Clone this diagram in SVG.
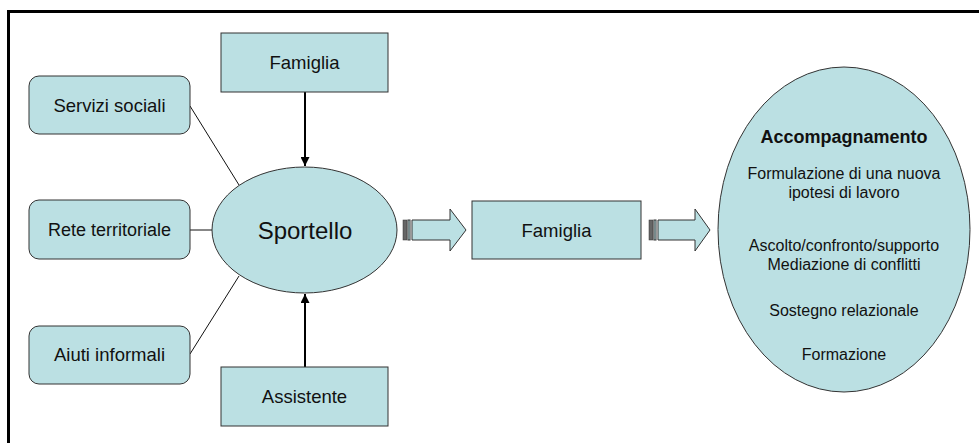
<svg xmlns="http://www.w3.org/2000/svg" width="979" height="443" viewBox="0 0 979 443">
<style>
.box{fill:#BBE0E3;stroke:#333;stroke-width:1}
.t{font-family:"Liberation Sans",Arial,sans-serif;fill:#111;text-anchor:middle}
.l{stroke:#111;stroke-width:1;fill:none}
.a{stroke:#000;stroke-width:2;fill:none}
.stripe{fill:#666;stroke:#333;stroke-width:0.5}
</style>
<defs>
<marker id="ah" viewBox="0 0 10 10" refX="10" refY="5" markerWidth="4.5" markerHeight="4.5" orient="auto" markerUnits="strokeWidth">
<path d="M0,0 L10,5 L0,10 Z" fill="#000"/>
</marker>
</defs>
<rect width="979" height="443" fill="#fff"/>
<path d="M8.5,443 V11.5 H979" fill="none" stroke="#000" stroke-width="3"/>
<g id="connectors">
<line class="a" x1="305" y1="92" x2="305" y2="166" marker-end="url(#ah)"/>
<line class="a" x1="305" y1="367" x2="305" y2="294" marker-end="url(#ah)"/>
<line class="l" x1="190" y1="106" x2="239" y2="185"/>
<line class="l" x1="190" y1="230" x2="212" y2="230"/>
<line class="l" x1="190" y1="354" x2="239" y2="276"/>
<g id="arrow1">
<rect class="stripe" x="403" y="220" width="4" height="20"/>
<rect class="box" x="408" y="220" width="2" height="20" stroke-width="0.5"/>
<polygon class="box" points="412,220 450,220 450,209 466,230 450,251 450,240 412,240"/>
</g>
<g id="arrow2">
<rect class="stripe" x="649" y="220" width="4" height="20"/>
<rect class="box" x="654" y="220" width="2" height="20" stroke-width="0.5"/>
<polygon class="box" points="658,220 695,220 695,209 710,230 695,251 695,240 658,240"/>
</g>
</g>
<g id="famiglia-top">
<rect class="box" x="221" y="33" width="167" height="59"/>
<text class="t" x="304.5" y="69" font-size="18.5">Famiglia</text>
</g>
<g id="servizi-sociali">
<rect class="box" x="29" y="76" width="161" height="58" rx="10"/>
<text class="t" x="109.5" y="112" font-size="18.5">Servizi sociali</text>
</g>
<g id="rete-territoriale">
<rect class="box" x="29" y="200" width="161" height="59" rx="10"/>
<text class="t" x="109.5" y="236" font-size="18">Rete territoriale</text>
</g>
<g id="aiuti-informali">
<rect class="box" x="29" y="326" width="161" height="58" rx="10"/>
<text class="t" x="109.5" y="361" font-size="18.5">Aiuti informali</text>
</g>
<g id="sportello">
<ellipse class="box" cx="304.5" cy="230" rx="92.5" ry="63"/>
<text class="t" x="305" y="239" font-size="24">Sportello</text>
</g>
<g id="assistente">
<rect class="box" x="221" y="367" width="167" height="59"/>
<text class="t" x="304.5" y="403" font-size="18.5">Assistente</text>
</g>
<g id="famiglia-mid">
<rect class="box" x="472" y="201" width="169" height="58"/>
<text class="t" x="556.5" y="237" font-size="18.5">Famiglia</text>
</g>
<g id="accompagnamento">
<ellipse class="box" cx="844" cy="229.5" rx="126" ry="162.5"/>
<text class="t" x="844" y="143" font-size="18" font-weight="bold">Accompagnamento</text>
<text class="t" x="844" y="179" font-size="16">Formulazione di una nuova</text>
<text class="t" x="844" y="198" font-size="16">ipotesi di lavoro</text>
<text class="t" x="844" y="251" font-size="16">Ascolto/confronto/supporto</text>
<text class="t" x="844" y="270" font-size="16">Mediazione di conflitti</text>
<text class="t" x="844" y="316" font-size="16">Sostegno relazionale</text>
<text class="t" x="844" y="360" font-size="16">Formazione</text>
</g>
</svg>
